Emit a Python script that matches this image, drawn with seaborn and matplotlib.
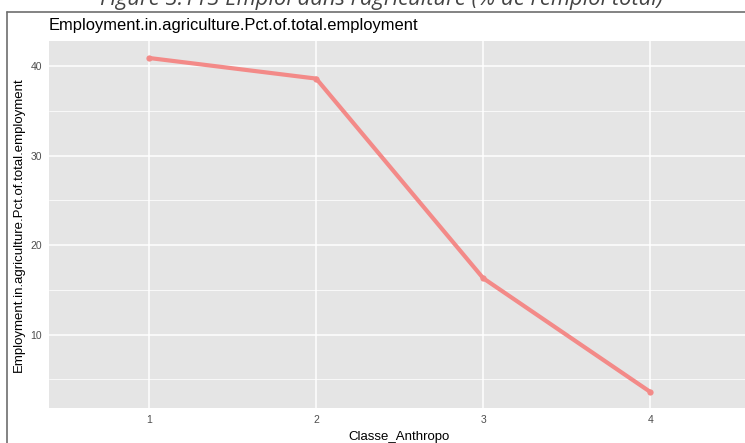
import pandas as pd
import seaborn as sns
import matplotlib.pyplot as plt
from matplotlib.lines import Line2D

# données
classes = [1, 2, 3, 4]
emploi_agri = [40.9, 38.6, 16.3, 3.6]
y_ticks = [10, 20, 30, 40]

df = pd.DataFrame({"Classe_Anthropo": classes,
                   "Employment.in.agriculture.Pct.of.total.employment": emploi_agri})

sns.set_theme(style="darkgrid", rc={
    "axes.facecolor": "#E5E5E5",
    "grid.color": "white",
    "axes.edgecolor": "none",
})
plt.rcParams["font.family"] = ["Liberation Sans", "DejaVu Sans"]

W, H = 745, 443
fig = plt.figure(figsize=(W / 100, H / 100), dpi=100)
ax = fig.add_axes([49 / W, (H - 408) / H, (W - 49) / W, (408 - 41) / H])

sns.lineplot(data=df, x="Classe_Anthropo",
             y="Employment.in.agriculture.Pct.of.total.employment",
             ax=ax, color="#F38A88", linewidth=3.0, marker="o",
             markersize=4.5, markeredgewidth=0, solid_capstyle="round")

ax.set_xlim(0.4, 0.4 + (W - 49) / 167)
ax.set_ylim(1.8, 42.8)
ax.set_xticks(classes)
ax.set_yticks(y_ticks)
ax.set_yticks([5, 15, 25, 35], minor=True)
ax.grid(which="major", color="white", linewidth=1.1)
ax.grid(which="minor", axis="y", color="white", linewidth=0.55)
ax.grid(which="minor", axis="x", visible=False)
ax.tick_params(axis="both", which="major", length=3, width=0.8, color="#4D4D4D",
               labelcolor="#4D4D4D", labelsize=7.5, pad=2)
ax.tick_params(which="minor", length=0)
for s in ax.spines.values():
    s.set_visible(False)

ax.set_xlabel("Classe_Anthropo", fontsize=9.5, color="black", labelpad=3)
ax.set_ylabel("Employment.in.agriculture.Pct.of.total.employment",
              fontsize=9.5, color="black", labelpad=4)
ax.xaxis.set_label_coords((399 - 49) / (W - 49), -0.062)
ax.set_title("Employment.in.agriculture.Pct.of.total.employment",
             loc="left", fontsize=11.9, color="black", pad=8)

# cadre et légende de la figure (coupée en haut, comme sur la capture)
fig.add_artist(Line2D([7 / W, 7 / W], [0, (H - 12) / H], color="#6E6E6E", linewidth=1.2))
fig.add_artist(Line2D([7 / W, 1], [(H - 12) / H, (H - 12) / H], color="#6E6E6E", linewidth=1.2))
fig.text(381 / W, 1 + 1 / H, "Figure 3.113 Emploi dans l\u2019agriculture (% de l\u2019emploi total)",
         ha="center", va="center", fontsize=15.8, style="italic", color="#444444",
         family=["Open Sans", "DejaVu Sans"])

fig.savefig("out.png", dpi=100)
